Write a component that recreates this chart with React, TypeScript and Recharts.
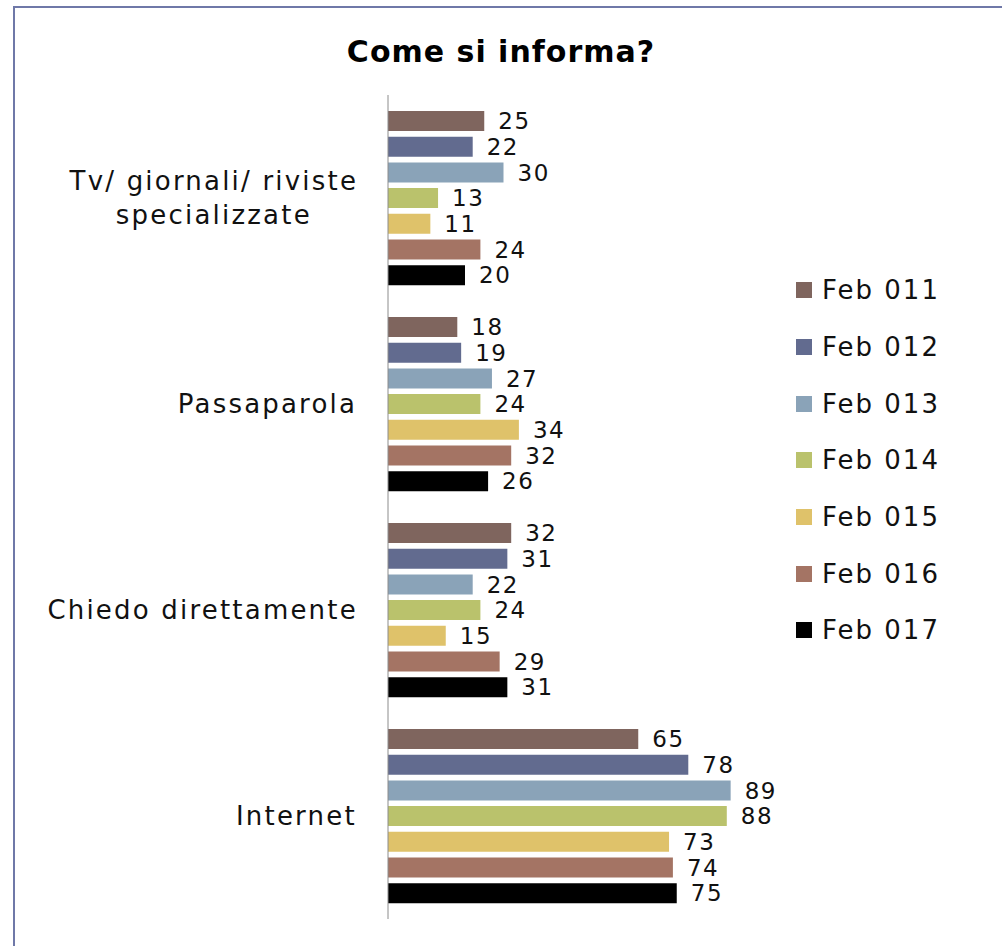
import React from 'react';
import {
  BarChart,
  Bar,
  XAxis,
  YAxis,
  Legend,
  LabelList,
} from 'recharts';

const categories = [
  'Tv/ giornali/ riviste specializzate',
  'Passaparola',
  'Chiedo direttamente',
  'Internet',
];

const seriesNames = ['Feb 011', 'Feb 012', 'Feb 013', 'Feb 014', 'Feb 015', 'Feb 016', 'Feb 017'];
const seriesColors = ['#7f655e', '#626b8f', '#8aa3b8', '#bac26c', '#dfc26a', '#a47464', '#000000'];

// one array per series, in category order
const feb011 = [25, 18, 32, 65];
const feb012 = [22, 19, 31, 78];
const feb013 = [30, 27, 22, 89];
const feb014 = [13, 24, 24, 88];
const feb015 = [11, 34, 15, 73];
const feb016 = [24, 32, 29, 74];
const feb017 = [20, 26, 31, 75];

const seriesValues = [feb011, feb012, feb013, feb014, feb015, feb016, feb017];

const FONT = '"DejaVu Sans", sans-serif';

const chartData = categories.map((name, i) => {
  const row: any = { name };
  seriesNames.forEach((s, j) => {
    row[s] = seriesValues[j][i];
  });
  return row;
});

let ctx: CanvasRenderingContext2D | null = null;
function textWidth(t: string, size: number, spacing: number) {
  if (!ctx) ctx = document.createElement('canvas').getContext('2d');
  if (!ctx) return t.length * size * 0.6;
  ctx.font = `${size}px "DejaVu Sans"`;
  return ctx.measureText(t).width + spacing * t.length;
}

function wrap(label: string, maxW: number) {
  const words = label.split(' ');
  const lines: string[] = [];
  let cur = '';
  words.forEach((w) => {
    const next = cur ? cur + ' ' + w : w;
    if (cur && textWidth(next, 26, 2) > maxW) {
      lines.push(cur);
      cur = w;
    } else {
      cur = next;
    }
  });
  if (cur) lines.push(cur);
  return lines;
}

const CategoryTick = ({ x, y, payload }: any) => {
  const lines = wrap(payload.value, 330);
  const right = x - 24;
  const blockW = Math.max(...lines.map((l) => textWidth(l, 26, 2)));
  const cx = right - blockW / 2;
  const lh = 34;
  const start = -((lines.length - 1) * lh) / 2;
  return (
    <g>
      {lines.map((l, i) => (
        <text
          key={i}
          x={cx}
          y={y + start + i * lh}
          dy="0.36em"
          textAnchor="middle"
          fill="#111"
          fontSize={26}
          fontFamily={FONT}
          letterSpacing={2.2}
        >
          {l}
        </text>
      ))}
    </g>
  );
};

const LegendList = ({ payload }: any) => (
  <div style={{ fontFamily: FONT }}>
    {(payload || []).map((p: any) => (
      <div key={p.value} style={{ height: 56.7, display: 'flex', alignItems: 'center' }}>
        <span style={{ width: 16, height: 16, background: p.color, display: 'inline-block', marginRight: 10 }} />
        <span style={{ fontSize: 26, letterSpacing: 2, color: '#111' }}>{p.value}</span>
      </div>
    ))}
  </div>
);

export default function App() {
  return (
    <div style={{ position: 'absolute', left: 0, top: 0, width: 1002, height: 946, background: '#fff', overflow: 'hidden' }}>
      <div
        style={{
          position: 'absolute',
          left: 13,
          top: 6,
          width: 987,
          height: 960,
          borderLeft: '2px solid #6f78a8',
          borderTop: '2px solid #6f78a8',
          borderRight: '1px solid #c9cde0',
        }}
      />
      <div
        style={{
          position: 'absolute',
          left: 0,
          width: 1002,
          top: 34,
          textAlign: 'center',
          fontFamily: FONT,
          fontWeight: 'bold',
          fontSize: 30,
          letterSpacing: 1,
          boxSizing: 'border-box',
        }}
      >
        Come si informa?
      </div>
      <div style={{ position: 'absolute', left: 0, top: 0 }}>
        <BarChart
          width={1002}
          height={946}
          data={chartData}
          layout="vertical"
          margin={{ top: 95, right: 229, bottom: 27, left: 18 }}
          barGap={5.7}
          barSize={20}
        >
          <XAxis type="number" domain={[0, 100]} hide />
          <YAxis
            type="category"
            dataKey="name"
            width={370}
            axisLine={{ stroke: '#8c8c8c' }}
            tickLine={false}
            tick={<CategoryTick />}
            interval={0}
          />
          <Legend
            layout="vertical"
            align="center"
            verticalAlign="middle"
            content={<LegendList />}
            wrapperStyle={{ left: 796, top: 262, width: 200 }}
          />
          {seriesNames.map((s, i) => (
            <Bar key={s} dataKey={s} name={s} fill={seriesColors[i]} isAnimationActive={false}>
              <LabelList
                dataKey={s}
                position="right"
                offset={14}
                fill="#111"
                fontSize={23}
                fontFamily={FONT}
                letterSpacing={1.5}
              />
            </Bar>
          ))}
        </BarChart>
      </div>
    </div>
  );
}
